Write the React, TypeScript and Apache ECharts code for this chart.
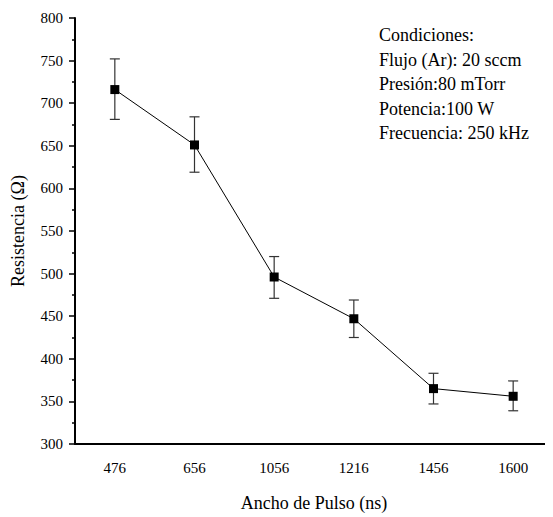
import React, { useEffect, useRef } from "react";
import * as echarts from "echarts";

const categories = ["476", "656", "1056", "1216", "1456", "1600"];
const resistance = [716, 651, 496, 447, 365, 356];
const errLow = [681, 619, 471, 425, 347, 339];
const errHigh = [752, 684, 520, 469, 383, 374];
const notes = [
  "Condiciones:",
  "Flujo (Ar): 20 sccm",
  "Presión:80 mTorr",
  "Potencia:100 W",
  "Frecuencia: 250 kHz",
];

const FONT = "Liberation Serif";

export default function App() {
  const ref = useRef<HTMLDivElement>(null);
  useEffect(() => {
    if (!ref.current) return;
    const chart = echarts.init(ref.current, null, { renderer: "svg" });
    const errData = categories.map((_, i) => [i, errLow[i], errHigh[i]]);
    chart.setOption({
      animation: false,
      backgroundColor: "#ffffff",
      grid: { left: 75, top: 18, width: 482, height: 431 },
      xAxis: [
        {
          type: "category",
          data: categories,
          boundaryGap: true,
          name: "Ancho de Pulso (ns)",
          nameLocation: "middle",
          nameGap: 50,
          nameTextStyle: { fontFamily: FONT, fontSize: 18, color: "#000" },
          axisLine: { lineStyle: { color: "#000", width: 2 } },
          axisTick: { alignWithLabel: true, length: 6, lineStyle: { color: "#000", width: 1.5 } },
          axisLabel: { fontFamily: FONT, fontSize: 15, color: "#000", margin: 16 },
          splitLine: { show: false },
        },
        {
          type: "category",
          data: categories,
          boundaryGap: true,
          position: "bottom",
          axisLine: { show: false },
          axisTick: { length: 3, lineStyle: { color: "#000", width: 1.5 } },
          axisLabel: { show: false },
          splitLine: { show: false },
        },
      ],
      yAxis: {
        type: "value",
        min: 300,
        max: 800,
        interval: 50,
        name: "Resistencia (Ω)",
        nameLocation: "middle",
        nameGap: 48,
        nameTextStyle: { fontFamily: FONT, fontSize: 18, color: "#000" },
        axisLine: { show: true, lineStyle: { color: "#000", width: 2 } },
        axisTick: { show: true, length: 6, lineStyle: { color: "#000", width: 1.5 } },
        minorTick: { show: true, splitNumber: 2, length: 3, lineStyle: { color: "#000", width: 1.5 } },
        axisLabel: { fontFamily: FONT, fontSize: 15, color: "#000", margin: 12 },
        splitLine: { show: false },
      },
      series: [
        {
          type: "custom",
          xAxisIndex: 0,
          data: errData,
          z: 1,
          renderItem: (params: any, api: any) => {
            const x = api.value(0);
            const lo = api.coord([x, api.value(1)]);
            const hi = api.coord([x, api.value(2)]);
            const w = 5;
            const style = { stroke: "#333", lineWidth: 1.2 };
            return {
              type: "group",
              children: [
                { type: "line", shape: { x1: lo[0], y1: lo[1], x2: hi[0], y2: hi[1] }, style },
                { type: "line", shape: { x1: lo[0] - w, y1: lo[1], x2: lo[0] + w, y2: lo[1] }, style },
                { type: "line", shape: { x1: hi[0] - w, y1: hi[1], x2: hi[0] + w, y2: hi[1] }, style },
              ],
            };
          },
        },
        {
          type: "line",
          xAxisIndex: 0,
          data: resistance,
          z: 2,
          symbol: "rect",
          symbolSize: 9,
          itemStyle: { color: "#000" },
          lineStyle: { color: "#000", width: 1 },
        },
      ],
      graphic: notes.map((t, i) => ({
        type: "text",
        left: 379,
        top: 26 + i * 24.5,
        style: { text: t, fontFamily: FONT, fontSize: 18, fill: "#000" },
      })),
    });
    return () => chart.dispose();
  }, []);
  return <div ref={ref} style={{ width: 553, height: 517, marginLeft: -8, marginTop: -8 }} />;
}
